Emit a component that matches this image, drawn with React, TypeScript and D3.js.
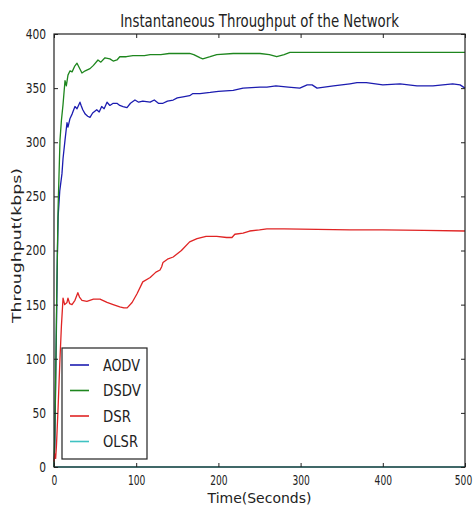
import React, { useRef, useEffect } from 'react';
import * as d3 from 'd3';

// series: [time (s), throughput (kbps)]
const aodv: [number, number][] = [
  [0, 0], [1, 20], [2, 80], [3, 130], [4, 190], [5, 231], [7, 255], [9.7, 271], [11, 285], [13.4, 302],
  [15.8, 318], [17, 314], [19.5, 322], [22, 326], [25.5, 333], [28, 331], [31.6, 337], [33, 334], [35, 330],
  [38, 326], [41, 324], [43.8, 323], [47, 327], [52, 330], [55, 328], [58, 333], [61, 331], [64.5, 337],
  [68, 334], [72, 336], [76.6, 336], [80, 334], [84, 333], [88.8, 332], [93, 336], [98.5, 339], [103, 337],
  [108, 338], [117, 337], [122, 339], [127, 336], [132.6, 336], [138, 338], [145, 339], [150, 341], [157, 342],
  [165, 343], [169, 345], [177.6, 345], [190, 346], [200, 347], [218, 348], [230, 350], [250.6, 351], [259, 351],
  [270, 352], [285, 351], [299, 350], [308, 353], [314, 353], [320, 350], [340, 352], [360, 354], [368.6, 355],
  [380, 355], [400, 353], [421, 354], [441.6, 352], [461, 352], [485, 354], [494, 353], [500, 350],
];
const dsdv: [number, number][] = [
  [0, 0], [1, 30], [2, 80], [3, 140], [3.6, 173], [5, 240], [7.3, 302], [9, 320], [11, 335], [13.4, 357],
  [15, 352], [17, 362], [19.5, 366], [22, 365], [25, 370], [28, 373], [30, 370], [34, 364], [38, 366],
  [43.8, 368], [48, 371], [53.5, 376], [57, 374], [62, 378], [68, 377], [72, 375], [76.6, 376], [80, 379],
  [88, 379], [96, 380], [104.6, 380], [110, 380], [117, 381], [130, 381], [140, 382], [157, 382], [165, 382],
  [170, 381], [178, 378], [181, 377], [190, 379], [198, 381], [218, 382], [235, 382], [250.6, 382], [262, 381],
  [271, 379], [280, 381], [287, 383], [320, 383], [360, 383], [400, 383], [450, 383], [500, 383],
];
const dsr: [number, number][] = [
  [0, 5], [1, 12], [2, 8], [3, 20], [5, 55], [7, 95], [9, 130], [11, 156], [13, 150], [15.8, 152], [17, 156],
  [19, 151], [21.9, 150], [25.5, 154], [29, 161], [31, 157], [34, 154], [40, 153], [48, 155], [56, 155],
  [64.5, 152], [72, 150], [80, 148], [85, 147], [89, 147], [95, 152], [101, 160], [108, 171], [117, 175],
  [124, 180], [129, 182], [131, 185], [132.6, 189], [138, 192], [145, 194], [155, 200], [165, 208], [174, 211],
  [185, 213], [198, 213], [210, 212], [216.5, 212], [220, 215], [230, 216], [238, 218], [250, 219], [259, 220],
  [280, 220], [320, 219.6], [360, 219], [400, 219], [450, 218.5], [500, 218],
];
const olsr: [number, number][] = [[0, 0], [100, 0], [200, 0], [300, 0], [400, 0], [500, 0]];

const seriesNames = ['AODV', 'DSDV', 'DSR', 'OLSR'];
const seriesColors = ['#1c1cb0', '#1e861e', '#e02424', '#3fc2c2'];
const xTicks = [0, 100, 200, 300, 400, 500];
const yTicks = [0, 50, 100, 150, 200, 250, 300, 350, 400];

// the picture's text is squeezed sideways; scale each text to its width about its own anchor
const squeeze = (sel: any, target: (d: any) => number) => {
  sel.each(function (this: SVGTextElement, d: any) {
    const len = this.getComputedTextLength();
    if (!len) return;
    const s = target(d) / len;
    const x = +(this.getAttribute('x') || 0);
    this.setAttribute('transform', `translate(${x * (1 - s)},0) scale(${s},1)`);
  });
};

const App = () => {
  const svgRef = useRef<SVGSVGElement>(null);
  useEffect(() => {
    const W = 474, H = 510;
    const margin = { top: 34, right: 9, bottom: 43, left: 54 };
    const width = W - margin.left - margin.right;
    const height = H - margin.top - margin.bottom;
    const root = d3.select(svgRef.current).attr('width', W).attr('height', H);
    root.selectAll('*').remove();
    root.append('rect').attr('width', W).attr('height', H).attr('fill', 'white');
    const svg = root.append('g').attr('transform', `translate(${margin.left},${margin.top})`);

    const x = d3.scaleLinear().domain([0, 500]).range([0, width]);
    const y = d3.scaleLinear().domain([0, 400]).range([height, 0]);
    const font = 'DejaVu Sans, sans-serif';

    const line = d3.line<[number, number]>().x(d => x(d[0])).y(d => y(d[1]));
    [aodv, dsdv, dsr, olsr].forEach((data, i) => {
      svg.append('path')
        .datum(data)
        .attr('d', line)
        .attr('fill', 'none')
        .attr('stroke', seriesColors[i])
        .attr('stroke-width', 1.3)
        .attr('stroke-linejoin', 'round');
    });

    // axes with inward ticks on all four sides
    const styleAxis = (g: any) => {
      g.select('.domain').remove();
      g.selectAll('line').attr('stroke', '#222');
    };
    svg.append('g').attr('transform', `translate(0,${height})`)
      .call(d3.axisBottom(x).tickValues(xTicks).tickSizeInner(-4).tickSizeOuter(0).tickPadding(8))
      .call(styleAxis)
      .selectAll('text')
      .attr('font-family', font).attr('font-size', 14).attr('fill', '#222')
      .attr('x', (d: any) => (d === 500 ? -2 : 0))
      .call(squeeze, (d: any) => String(d).length * 5.8);
    svg.append('g')
      .call(d3.axisTop(x).tickValues(xTicks).tickSizeInner(-4).tickSizeOuter(0).tickFormat(() => ''))
      .call(styleAxis);
    svg.append('g')
      .call(d3.axisLeft(y).tickValues(yTicks).tickSizeInner(-4).tickSizeOuter(0).tickPadding(8))
      .call(styleAxis)
      .selectAll('text')
      .attr('font-family', font).attr('font-size', 14).attr('fill', '#222')
      .call(squeeze, (d: any) => String(d).length * 6.8);
    svg.append('g').attr('transform', `translate(${width},0)`)
      .call(d3.axisRight(y).tickValues(yTicks).tickSizeInner(-4).tickSizeOuter(0).tickFormat(() => ''))
      .call(styleAxis);

    svg.append('rect')
      .attr('width', width).attr('height', height)
      .attr('fill', 'none').attr('stroke', '#222').attr('stroke-width', 1.2);

    // title and axis labels
    svg.append('text')
      .attr('x', width / 2).attr('y', -7)
      .attr('text-anchor', 'middle')
      .attr('font-family', font).attr('font-size', 17).attr('fill', '#222')
      .text('Instantaneous Throughput of the Network')
      .call(squeeze, () => 279);
    svg.append('text')
      .attr('x', width / 2).attr('y', height + 36)
      .attr('text-anchor', 'middle')
      .attr('font-family', font).attr('font-size', 14).attr('fill', '#222')
      .text('Time(Seconds)')
      .call(squeeze, () => 104);
    svg.append('g')
      .attr('transform', `translate(-33,${height / 2 - 5}) rotate(-90)`)
      .append('text')
      .attr('text-anchor', 'middle')
      .attr('font-family', font).attr('font-size', 13).attr('fill', '#222')
      .text('Throughput(kbps)')
      .call(squeeze, () => 155);

    // legend
    const legendWidths = [37, 38, 28, 35];
    const legend = svg.append('g').attr('transform', `translate(8,${height - 119})`);
    legend.append('rect')
      .attr('width', 85).attr('height', 111)
      .attr('fill', 'white').attr('stroke', '#222').attr('stroke-width', 1.2);
    seriesNames.forEach((name, i) => {
      const cy = 17 + i * 25.5;
      legend.append('line')
        .attr('x1', 8).attr('x2', 27).attr('y1', cy).attr('y2', cy)
        .attr('stroke', seriesColors[i]).attr('stroke-width', 1.6);
      legend.append('text')
        .attr('x', 41).attr('y', cy + 6)
        .attr('font-family', font).attr('font-size', 16).attr('fill', '#222')
        .text(name)
        .call(squeeze, () => legendWidths[i]);
    });

    return () => {
      root.selectAll('*').remove();
    };
  }, []);
  return <svg ref={svgRef} style={{ position: 'absolute', left: 0, top: 0 }}></svg>;
};

export default App;
